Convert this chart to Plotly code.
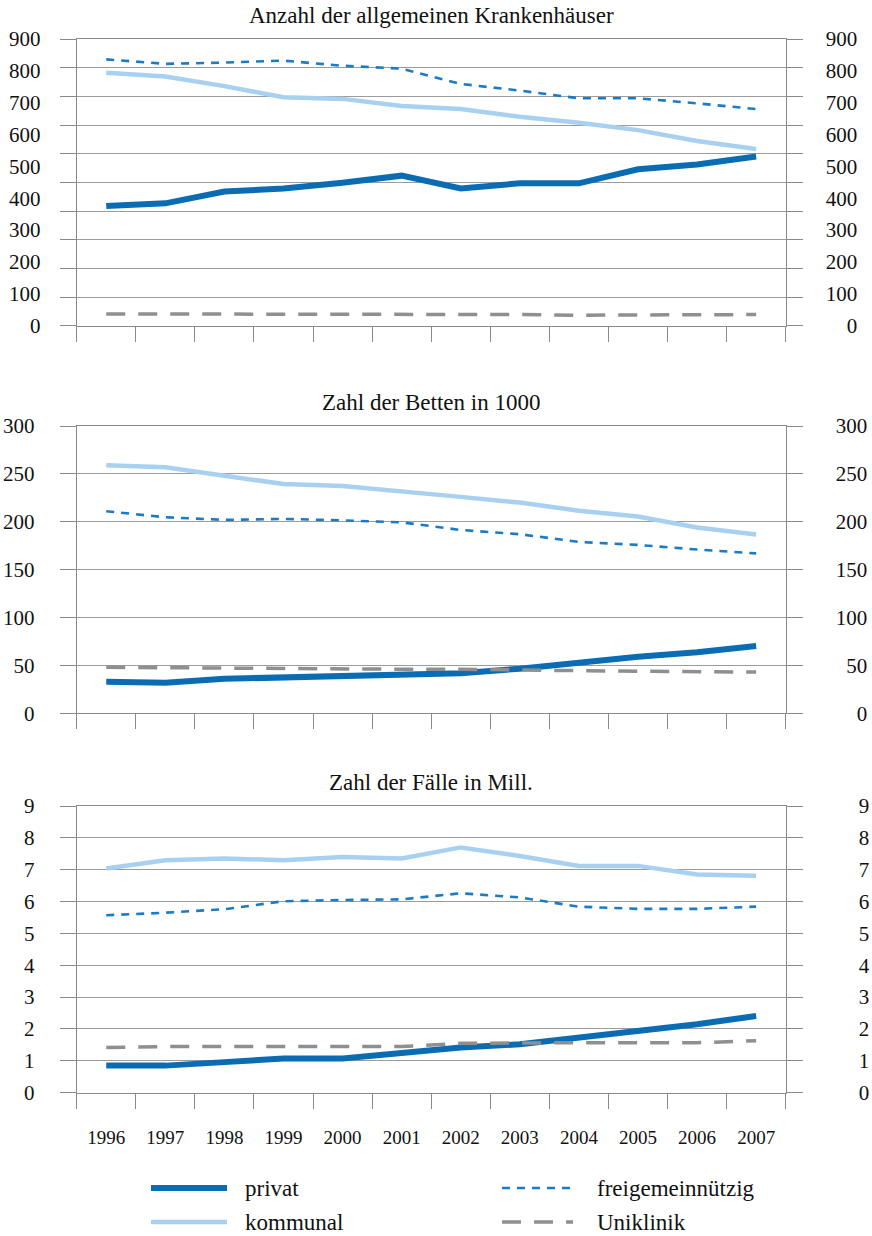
import plotly.graph_objects as go

W, H = 872, 1236

years = [1996, 1997, 1998, 1999, 2000, 2001, 2002, 2003, 2004, 2005, 2006, 2007]
year_labels = [str(y) for y in years]

# Panel 1: Anzahl der allgemeinen Krankenhäuser
kh_privat = [376, 384, 421, 431, 449, 471, 431, 447, 447, 491, 506, 531]
kh_kommunal = [794, 782, 752, 717, 712, 690, 680, 656, 637, 614, 580, 555]
kh_frei = [836, 822, 826, 832, 816, 807, 759, 738, 714, 714, 698, 680]
kh_uni = [37, 37, 37, 37, 36, 35, 35, 35, 33, 34, 35, 35]

# Panel 2: Zahl der Betten in 1000
bt_privat = [33, 32, 36, 37.6, 38.6, 40, 41.8, 46.6, 53, 59, 63.7, 70.3]
bt_kommunal = [259, 257, 248, 239.5, 237.4, 232, 226, 220, 211.6, 205.4, 194, 186.6]
bt_frei = [211, 204.7, 202, 203, 201.5, 199.4, 191.4, 187, 179, 175.8, 171, 167]
bt_uni = [48, 47.5, 47, 47, 46.5, 46, 46, 45, 44.5, 44, 43.5, 43]

# Panel 3: Zahl der Fälle in Mill.
fa_privat = [0.85, 0.85, 0.96, 1.07, 1.07, 1.23, 1.42, 1.52, 1.73, 1.92, 2.15, 2.41]
fa_kommunal = [7.04, 7.30, 7.35, 7.30, 7.40, 7.35, 7.70, 7.43, 7.12, 7.12, 6.85, 6.81]
fa_frei = [5.57, 5.65, 5.76, 6.01, 6.05, 6.07, 6.26, 6.13, 5.84, 5.77, 5.77, 5.84]
fa_uni = [1.42, 1.45, 1.45, 1.45, 1.45, 1.45, 1.55, 1.57, 1.57, 1.57, 1.57, 1.63]

titles = ["Anzahl der allgemeinen Krankenhäuser", "Zahl der Betten in 1000", "Zahl der Fälle in Mill."]
y_ticks = [list(range(0, 901, 100)), list(range(0, 301, 50)), list(range(0, 10, 1))]
y_max = [900, 300, 9]
grid_p1 = [i * 90 for i in range(11)]

series_names = ["privat", "kommunal", "freigemeinnützig", "Uniklinik"]
panels = [
    [kh_privat, kh_kommunal, kh_frei, kh_uni],
    [bt_privat, bt_kommunal, bt_frei, bt_uni],
    [fa_privat, fa_kommunal, fa_frei, fa_uni],
]

C_PRIVAT = "#0a6db3"
C_KOMM = "#a8d0f0"
C_FREI = "#1b7bc4"
C_UNI = "#8f8f8f"
GRID = "#9c9c9c"
AXIS = "#8a8a8a"
FONT = "Liberation Serif, Times New Roman, Times, serif"
FS_Y = 21
FS_X = 19
FS_T = 23
TXT = "#111111"

styles = [
    dict(color=C_PRIVAT, width=6, dash="solid"),
    dict(color=C_KOMM, width=4.5, dash="solid"),
    dict(color=C_FREI, width=2.6, dash="8px,7px"),
    dict(color=C_UNI, width=3.5, dash="19px,13px"),
]

FIG_SP = "\u2007"

def pad(label, n):
    return FIG_SP * (n - len(label)) + label

def px_x(v):
    return v / W

def px_y(v):
    return 1 - v / H

x0, x1 = px_x(76.7), px_x(785.7)
panel_px = [(39, 325.7), (426, 713.3), (806, 1092.7)]
title_px = [16, 402, 782]
left_standoff = [15, 21, 21]
right_standoff = [39, 49, 72]
right_width = [3, 3, 1]

fig = go.Figure()
layout = dict(
    width=W, height=H,
    margin=dict(l=0, r=0, t=0, b=0, autoexpand=False),
    paper_bgcolor="white", plot_bgcolor="white",
    showlegend=False,
    font=dict(family=FONT, size=FS_Y, color=TXT),
    annotations=[], shapes=[],
)

for i in range(3):
    n = i + 1
    xa = "x" if n == 1 else f"x{n}"
    ya = "y" if n == 1 else f"y{n}"
    yr_id = n + 3
    for s, (name, data) in enumerate(zip(series_names, panels[i])):
        fig.add_trace(go.Scatter(
            x=years, y=data, mode="lines", name=name,
            line=styles[s], xaxis=xa, yaxis=ya, hoverinfo="skip",
        ))
    fig.add_trace(go.Scatter(x=[years[0]], y=[None], mode="lines",
                             xaxis=xa, yaxis=f"y{yr_id}", hoverinfo="skip",
                             showlegend=False))
    top_px, bot_px = panel_px[i]
    ydom = [px_y(bot_px), px_y(top_px)]

    layout[f"xaxis{'' if n == 1 else n}"] = dict(
        domain=[x0, x1], anchor=ya, range=[1995.5, 2007.5],
        tickvals=years, ticktext=year_labels, showticklabels=(n == 3),
        ticks="outside", ticklen=15, tickcolor="rgba(0,0,0,0)",
        ticklabelstandoff=12, automargin=False,
        minor=dict(tickvals=[y - 0.5 for y in years] + [2007.5], ticks="outside",
                   ticklen=15, tickcolor=AXIS, tickwidth=1, showgrid=False),
        showline=True, mirror=True, linecolor=AXIS, linewidth=1,
        showgrid=False, zeroline=False, fixedrange=True,
        tickfont=dict(family=FONT, size=FS_X, color=TXT),
    )
    yax = dict(
        domain=ydom, anchor=xa, range=[0, y_max[i]],
        tickvals=y_ticks[i], ticktext=[str(v) for v in y_ticks[i]],
        ticks="outside", ticklen=16, tickcolor=AXIS, tickwidth=1,
        ticklabelstandoff=left_standoff[i], automargin=False,
        showline=True, mirror="ticks", linecolor=AXIS, linewidth=1,
        showgrid=True, gridcolor=GRID, gridwidth=1, zeroline=False,
        fixedrange=True,
        tickfont=dict(family=FONT, size=FS_Y, color=TXT),
    )
    if n == 1:
        yax["showgrid"] = False
        yax["tickcolor"] = "rgba(0,0,0,0)"
        yax["minor"] = dict(tickvals=grid_p1, ticks="outside", ticklen=16,
                            tickcolor=AXIS, tickwidth=1, showgrid=True,
                            gridcolor=GRID, gridwidth=1)
    layout[f"yaxis{'' if n == 1 else n}"] = yax
    layout[f"yaxis{yr_id}"] = dict(
        overlaying=ya, side="right", anchor=xa, range=[0, y_max[i]],
        tickvals=y_ticks[i],
        ticktext=[pad(str(v), right_width[i]) for v in y_ticks[i]],
        ticks="", showline=False, showgrid=False, zeroline=False,
        ticklabelstandoff=right_standoff[i], automargin=False,
        fixedrange=True,
        tickfont=dict(family=FONT, size=FS_Y, color=TXT),
    )
    layout["annotations"].append(dict(
        text=titles[i], xref="paper", yref="paper",
        x=(x0 + x1) / 2, y=px_y(title_px[i]), xanchor="center", yanchor="middle",
        showarrow=False, font=dict(family=FONT, size=FS_T, color=TXT),
    ))

legend_items = [
    (0, 151, 227, 1188, 243),
    (2, 502, 573, 1188, 595),
    (1, 151, 227, 1222, 243),
    (3, 502, 573, 1222, 595),
]
for s, lx0, lx1, ly, tx in legend_items:
    st = styles[s]
    layout["shapes"].append(dict(
        type="line", xref="paper", yref="paper",
        x0=px_x(lx0), x1=px_x(lx1), y0=px_y(ly), y1=px_y(ly),
        line=dict(color=st["color"], width=st["width"], dash=st["dash"]),
    ))
    layout["annotations"].append(dict(
        text=series_names[s], xref="paper", yref="paper",
        x=px_x(tx), y=px_y(ly), xanchor="left", yanchor="middle",
        showarrow=False, font=dict(family=FONT, size=FS_T, color=TXT),
    ))

fig.update_layout(**layout)
fig.write_html("out.html",
               config={"displayModeBar": False, "staticPlot": True},
               post_script="document.body.style.margin='0';document.body.style.padding='0';")
